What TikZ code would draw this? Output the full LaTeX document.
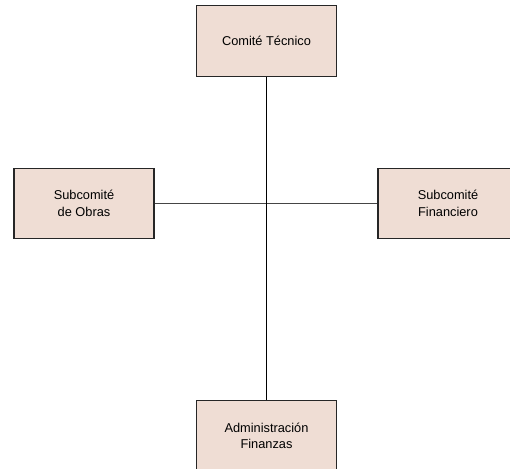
\documentclass[tikz,border=0pt]{standalone}
\usepackage{fontspec}
\setmainfont{Liberation Sans}
\usepackage{xcolor}
\usepackage{tikz}
\usetikzlibrary{positioning}
\definecolor{boxfill}{HTML}{EFDDD4}
\definecolor{linegray}{HTML}{454545}

\begin{document}
\begin{tikzpicture}[x=0.75pt,y=-0.75pt,
    font=\fontsize{9.6}{12.4}\selectfont,
    unit/.style={draw=black!85,line width=0.8pt,fill=boxfill,align=center,
      minimum width=105pt,minimum height=53pt,inner sep=2pt}]
    \useasboundingbox (0,0) rectangle (510,468);
    \node[unit] (tecnico) at (266.5,41) {Comité Técnico};
    \node[unit] (obras) at (84,203.5) {Subcomité\\de Obras};
    \node[unit] (financiero) at (448,203.5) {Subcomité\\Financiero};
    \node[unit] (admin) at (266.5,436) {Administración\\Finanzas};

    \draw[linegray,line width=1pt] (obras.east) -- (financiero.west);
    \draw[black,line width=1pt] (tecnico.south) -- (admin.north);
  \end{tikzpicture}
\end{document}
